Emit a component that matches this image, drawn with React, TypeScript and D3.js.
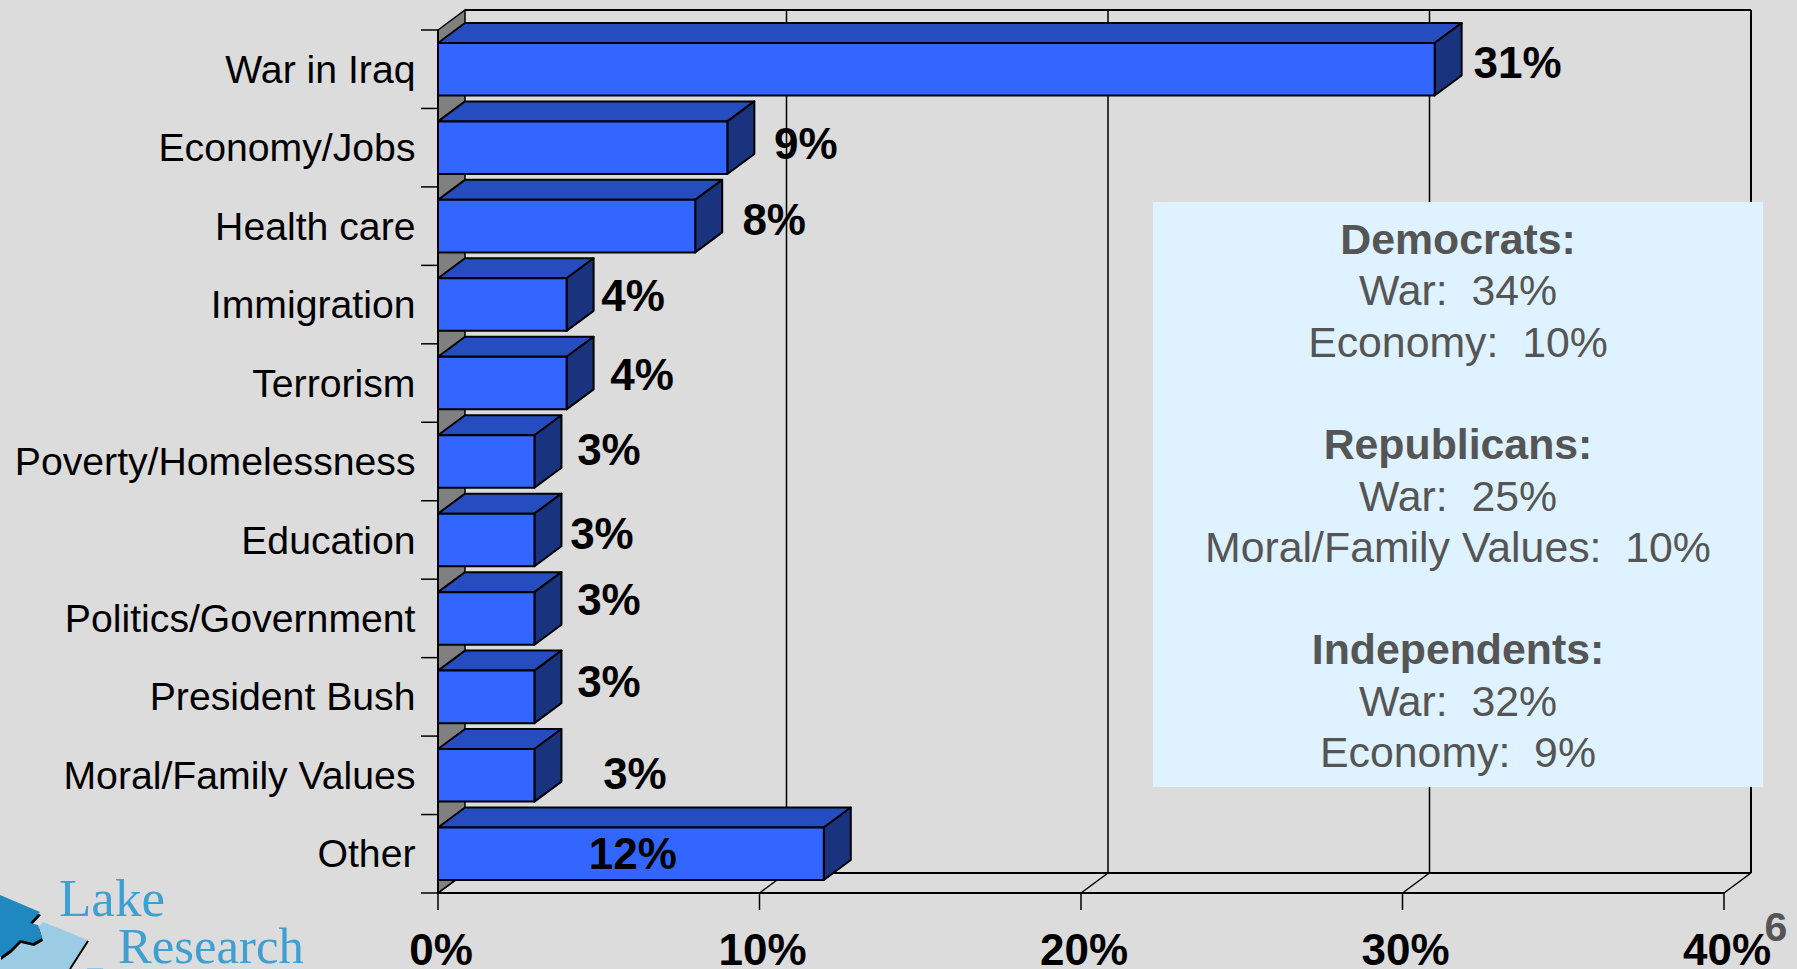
import * as d3 from 'd3';
import { useEffect, useRef } from 'react';

const categories = ['War in Iraq', 'Economy/Jobs', 'Health care', 'Immigration', 'Terrorism', 'Poverty/Homelessness', 'Education', 'Politics/Government', 'President Bush', 'Moral/Family Values', 'Other'];
const values = [31, 9, 8, 4, 4, 3, 3, 3, 3, 3, 12];
const xTicks = [0, 10, 20, 30, 40];
// the labels were dragged by hand in the original, so each has its own nudge
const labelDx = [83, 78.5, 79, 66.5, 75.5, 74.5, 67.5, 74.5, 74.5, 100.5, -191];
const labelDy = [-7, -5, -7, -9, -9, -12, -7, -19, -16, -2, -1];
const panelLines = [
  { text: 'Democrats:', bold: true }, { text: 'War:  34%' }, { text: 'Economy:  10%' }, { text: '' },
  { text: 'Republicans:', bold: true }, { text: 'War:  25%' }, { text: 'Moral/Family Values:  10%' }, { text: '' },
  { text: 'Independents:', bold: true }, { text: 'War:  32%' }, { text: 'Economy:  9%' },
];

const WIDTH = 1797;
const HEIGHT = 969;
const FONT = '"Liberation Sans", Arial, sans-serif';
const SERIF = '"Liberation Serif", serif';
const DX = 27; // depth of the 3d box
const DY = -20;
const PUZZLE_DARK = '0,895 40,912 30,923 38,925 42,938 33,943 20,940 10,950 0,957';

export default function App() {
  const ref = useRef<SVGSVGElement>(null);

  useEffect(() => {
    const svg = d3.select(ref.current);
    svg.selectAll('*').remove();
    svg.style('font-family', FONT);

    svg.append('rect').attr('width', WIDTH).attr('height', HEIGHT).attr('fill', '#dcdcdc');

    const x = d3.scaleLinear().domain([0, 40]).range([438, 1724]);
    const y = d3.scaleBand<string>().domain(categories).range([30, 893]).paddingInner(0.33).paddingOuter(0.165);
    const step = y.step();
    const bandTop = (i: number) => 30 + i * step;
    const yEnd = 893;
    const pts = (p: number[][]) => p.map((d) => d.join(',')).join(' ');

    // walls and floor
    svg.append('polygon')
      .attr('points', pts([[x(0), 30], [x(0) + DX, 30 + DY], [x(0) + DX, yEnd + DY], [x(0), yEnd]]))
      .attr('fill', '#808080').attr('stroke', '#000').attr('stroke-width', 1.5);
    svg.append('line').attr('x1', x(0) + DX).attr('x2', x(40) + DX).attr('y1', 30 + DY).attr('y2', 30 + DY)
      .attr('stroke', '#000').attr('stroke-width', 2);
    svg.append('line').attr('x1', x(0) + DX).attr('x2', x(40) + DX).attr('y1', yEnd + DY).attr('y2', yEnd + DY)
      .attr('stroke', '#000').attr('stroke-width', 2);
    svg.append('line').attr('x1', x(0)).attr('x2', x(40)).attr('y1', yEnd).attr('y2', yEnd)
      .attr('stroke', '#000').attr('stroke-width', 2);

    xTicks.forEach((t) => {
      if (t > 0) {
        svg.append('line').attr('x1', x(t) + DX).attr('x2', x(t) + DX).attr('y1', 30 + DY).attr('y2', yEnd + DY)
          .attr('stroke', '#000').attr('stroke-width', t === 40 ? 2 : 1.5);
      }
      svg.append('line').attr('x1', x(t)).attr('x2', x(t) + DX).attr('y1', yEnd).attr('y2', yEnd + DY)
        .attr('stroke', '#000').attr('stroke-width', 1.5);
      svg.append('line').attr('x1', x(t)).attr('x2', x(t)).attr('y1', yEnd).attr('y2', yEnd + 17)
        .attr('stroke', '#000').attr('stroke-width', 1.5);
      svg.append('text').attr('x', x(t) + 3).attr('y', 965).attr('text-anchor', 'middle')
        .attr('font-size', 44).attr('font-weight', 'bold').attr('fill', '#000').text(`${t}%`);
    });

    // front axis and category ticks
    svg.append('line').attr('x1', x(0)).attr('x2', x(0)).attr('y1', 30).attr('y2', yEnd)
      .attr('stroke', '#000').attr('stroke-width', 2);
    d3.range(categories.length + 1).forEach((i) => {
      svg.append('line').attr('x1', x(0) - 17).attr('x2', x(0)).attr('y1', bandTop(i)).attr('y2', bandTop(i))
        .attr('stroke', '#000').attr('stroke-width', 1.5);
    });

    // bars
    categories.forEach((c, i) => {
      const top = y(c)!;
      const bh = y.bandwidth();
      const x0 = x(0);
      const x1 = x(values[i]);
      const g = svg.append('g').attr('stroke', '#000').attr('stroke-width', 2).attr('stroke-linejoin', 'round');
      g.append('polygon').attr('points', pts([[x0, top], [x0 + DX, top + DY], [x1 + DX, top + DY], [x1, top]])).attr('fill', '#254dbf');
      g.append('polygon').attr('points', pts([[x1, top], [x1 + DX, top + DY], [x1 + DX, top + bh + DY], [x1, top + bh]])).attr('fill', '#19337f');
      g.append('rect').attr('x', x0).attr('y', top).attr('width', x1 - x0).attr('height', bh).attr('fill', '#3366ff');
    });

    // category labels
    categories.forEach((c) => {
      svg.append('text').attr('x', 415.5).attr('y', y(c)! + y.bandwidth() / 2 - 0.5).attr('dy', '0.36em').attr('text-anchor', 'end')
        .attr('font-size', 39.2).attr('fill', '#000').text(c);
    });

    // value labels
    values.forEach((v, i) => {
      svg.append('text').attr('x', x(v) + labelDx[i]).attr('y', bandTop(i) + step / 2 + labelDy[i]).attr('dy', '0.36em')
        .attr('text-anchor', 'middle').attr('font-size', 44).attr('font-weight', 'bold').attr('fill', '#000').text(`${v}%`);
    });

    // note panel
    svg.append('rect').attr('x', 1153).attr('y', 202).attr('width', 610).attr('height', 585).attr('fill', '#dff2ff');
    panelLines.forEach((l, i) => {
      svg.append('text').attr('x', 1458).attr('y', 254 + i * 51.3).attr('text-anchor', 'middle')
        .attr('xml:space', 'preserve').style('white-space', 'pre')
        .attr('font-size', 42.8).attr('font-weight', l.bold ? 'bold' : 'normal').attr('fill', '#555555').text(l.text);
    });

    // page number
    svg.append('text').attr('x', 1776).attr('y', 941).attr('text-anchor', 'middle').attr('font-size', 41)
      .attr('font-weight', 'bold').attr('fill', '#555555').text('6');

    // logo
    const logo = svg.append('g');
    logo.append('polygon').attr('points', '43,922 88,940 70,969 0,969 0,958 20,945').attr('fill', '#9ccbe4');
    logo.append('line').attr('x1', 88).attr('y1', 941).attr('x2', 70).attr('y2', 969).attr('stroke', '#000').attr('stroke-width', 2);
    logo.append('polygon').attr('points', PUZZLE_DARK).attr('transform', 'translate(1,3)').attr('fill', '#000');
    logo.append('polygon').attr('points', PUZZLE_DARK).attr('fill', '#2088c0');
    logo.append('line').attr('x1', 87).attr('y1', 968.5).attr('x2', 103).attr('y2', 968.5).attr('stroke', '#8cc4e2').attr('stroke-width', 1);
    logo.append('text').attr('x', 59).attr('y', 916).attr('font-family', SERIF).attr('font-size', 53).attr('fill', '#3f9fd2').text('Lake');
    logo.append('text').attr('x', 118).attr('y', 963).attr('font-family', SERIF).attr('font-size', 50.7).attr('fill', '#3f9fd2').text('Research');
  }, []);

  return <svg ref={ref} width={WIDTH} height={HEIGHT} style={{ position: 'absolute', left: 0, top: 0, display: 'block' }} />;
}
